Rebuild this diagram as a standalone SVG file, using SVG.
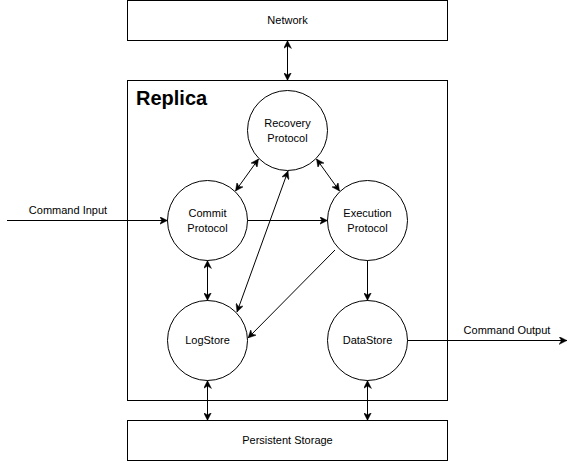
<svg xmlns="http://www.w3.org/2000/svg" width="576" height="461" viewBox="0 0 576 461">
<style>
.box{fill:#fff;stroke:#000;stroke-width:1}
.node{fill:#fff;stroke:#000;stroke-width:1}
.lbl{font-family:"Liberation Sans",Arial,sans-serif;font-size:11px;fill:#000;text-anchor:middle}
.title{font-family:"Liberation Sans",Arial,sans-serif;font-size:20px;font-weight:bold;fill:#000}
.edge{fill:none;stroke:#000;stroke-width:1;marker-end:url(#ah)}
.bi{marker-start:url(#ah)}
</style>
<defs>
<marker id="ah" viewBox="0 0 10 10" refX="10" refY="5" markerWidth="8" markerHeight="8" markerUnits="userSpaceOnUse" orient="auto-start-reverse">
<path d="M0,0 L10,5 L0,10 L3,5 z" fill="#000" stroke="#000" stroke-width="0.5"/>
</marker>
</defs>
<g id="network"><rect class="box" x="127.5" y="0.5" width="320" height="40"/><text class="lbl" x="287.5" y="24">Network</text></g>
<g id="replica"><rect class="box" x="127.5" y="80.5" width="320" height="320"/><text class="title" x="136" y="105">Replica</text></g>
<g id="storage"><rect class="box" x="127.5" y="420.5" width="320" height="40"/><text class="lbl" x="287.5" y="444">Persistent Storage</text></g>
<g id="recovery"><circle class="node" cx="287.5" cy="130.5" r="40"/><text class="lbl" x="287.5" y="127">Recovery</text><text class="lbl" x="287.5" y="142">Protocol</text></g>
<g id="commit"><circle class="node" cx="207.5" cy="220.5" r="40"/><text class="lbl" x="207.5" y="217">Commit</text><text class="lbl" x="207.5" y="232">Protocol</text></g>
<g id="execution"><circle class="node" cx="367.5" cy="220.5" r="40"/><text class="lbl" x="367.5" y="217">Execution</text><text class="lbl" x="367.5" y="232">Protocol</text></g>
<g id="logstore"><circle class="node" cx="207.5" cy="340.5" r="40"/><text class="lbl" x="207.5" y="344">LogStore</text></g>
<g id="datastore"><circle class="node" cx="367.5" cy="340.5" r="40"/><text class="lbl" x="367.5" y="344">DataStore</text></g>
<g id="connectors">
<path class="edge bi" d="M287.5,40.5 L287.5,80.5"/>
<path class="edge bi" d="M258.5,159 L235.5,191"/>
<path class="edge bi" d="M316.5,159 L339.5,191"/>
<path class="edge" d="M247.5,220.5 L327.5,220.5"/>
<path class="edge bi" d="M288,171 L237,312"/>
<path class="edge" d="M335,250 L248,338"/>
<path class="edge bi" d="M207.5,260.5 L207.5,300.5"/>
<path class="edge" d="M367.5,260.5 L367.5,300.5"/>
<path class="edge bi" d="M207.5,380.5 L207.5,420.5"/>
<path class="edge bi" d="M367.5,380.5 L367.5,420.5"/>
<path class="edge" d="M7,220.5 L167.5,220.5"/>
<text class="lbl" x="68" y="214">Command Input</text>
<path class="edge" d="M407.5,340.5 L567,340.5"/>
<text class="lbl" x="507" y="334">Command Output</text>
</g>
</svg>
